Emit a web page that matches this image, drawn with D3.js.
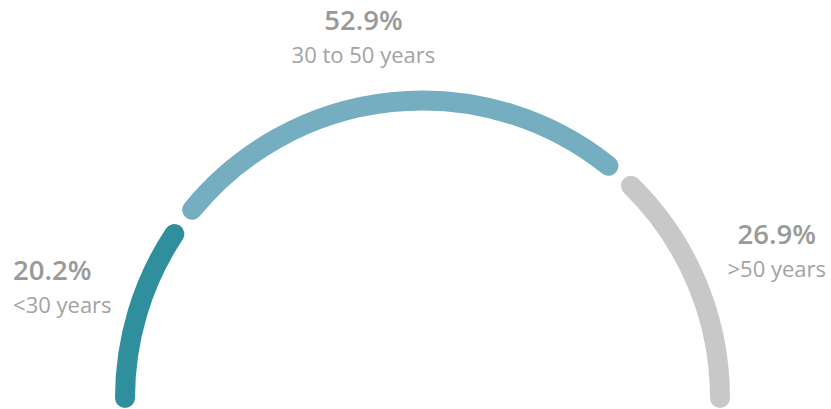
<!DOCTYPE html>
<html>
<head>
<meta charset="utf-8">
<script src="https://cdn.jsdelivr.net/npm/d3@7"></script>
<style>
  body { margin: 0; background: #fff; }
  svg { display: block; font-family: "Open Sans", "Noto Sans", sans-serif; }
</style>
</head>
<body>
<div id="chart"></div>
<script>
// data
var categories = ["<30 years", "30 to 50 years", ">50 years"];
var shares = [20.2, 52.9, 26.9];
var colors = ["#2f8f9d", "#75aec1", "#c8c8c8"];

var svgWidth = 831;
var svgHeight = 409;

var cx = 422.5, cy = 398;
var radius = 297.5;
var thickness = 20;
var gap = 15 / radius; // trimmed off each inner segment end

var svg = d3.select("#chart")
    .append("svg")
    .attr("width", svgWidth)
    .attr("height", svgHeight);

var g = svg.append("g")
    .attr("transform", `translate(${cx}, ${cy})`);

// half donut: -90deg (left) to +90deg (right)
var pie = d3.pie()
    .sort(null)
    .startAngle(-Math.PI / 2)
    .endAngle(Math.PI / 2)
    .value(d => d);

var arcs = pie(shares);
var n = arcs.length;

function arcPath(d, i) {
    var a0 = d.startAngle + (i > 0 ? gap : 0);
    var a1 = d.endAngle - (i < n - 1 ? gap : 0);
    var p = d3.path();
    // d3 angles are measured from 12 o'clock, canvas from 3 o'clock
    p.arc(0, 0, radius, a0 - Math.PI / 2, a1 - Math.PI / 2, false);
    return p.toString();
}

g.selectAll("path.seg")
    .data(arcs)
    .enter()
    .append("path")
    .attr("class", "seg")
    .attr("d", arcPath)
    .attr("fill", "none")
    .attr("stroke", (d, i) => colors[i])
    .attr("stroke-width", thickness)
    .attr("stroke-linecap", "round");

// labels sit outside the arc, around each segment's middle
var labelRadius = 372;
var nudge = [[-56, 0], [-20, 4], [15, 1]];
var anchors = ["start", "middle", "middle"];

var labels = g.selectAll("g.label")
    .data(arcs)
    .enter()
    .append("g")
    .attr("class", "label")
    .attr("transform", function (d, i) {
        var a = (d.startAngle + d.endAngle) / 2;
        var x = Math.sin(a) * labelRadius + nudge[i][0];
        var y = -Math.cos(a) * labelRadius + nudge[i][1];
        return `translate(${x}, ${y})`;
    });

labels.append("text")
    .attr("text-anchor", (d, i) => anchors[i])
    .attr("y", -2)
    .attr("font-size", 27.5)
    .attr("font-weight", 600)
    .attr("fill", "#9a9a9a")
    .text(d => d3.format(".1f")(d.data) + "%");

labels.append("text")
    .attr("text-anchor", (d, i) => anchors[i])
    .attr("y", 31)
    .attr("font-size", 22)
    .attr("fill", "#a3a3a3")
    .text((d, i) => categories[i]);
</script>
</body>
</html>
